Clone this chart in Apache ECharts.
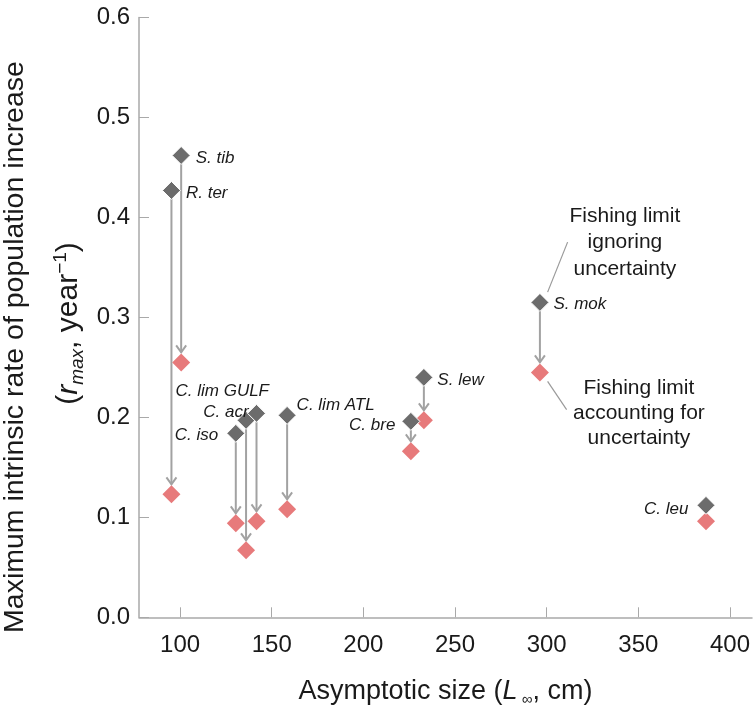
<!DOCTYPE html>
<html>
<head>
<meta charset="utf-8">
<script src="https://cdn.jsdelivr.net/npm/echarts@6/dist/echarts.min.js"></script>
<style>
  html, body { margin: 0; padding: 0; background: #fff; }
  #rmaxChart { width: 754px; height: 708px; }
</style>
</head>
<body>
<div id="rmaxChart"></div>
<script>
// species, asymptotic size and rmax
var species = ['R. ter', 'S. tib', 'C. iso', 'C. acr', 'C. lim GULF', 'C. lim ATL', 'C. bre', 'S. lew', 'S. mok', 'C. leu'];
var sizeCm = [95.3, 100.6, 130.4, 136.0, 141.7, 158.4, 225.9, 233.0, 296.3, 386.9];
var rIgnore = [0.427, 0.462, 0.184, 0.197, 0.204, 0.202, 0.196, 0.240, 0.315, 0.112];
var rAccount = [0.123, 0.255, 0.094, 0.067, 0.096, 0.108, 0.166, 0.197, 0.245, 0.096];
var xTicks = [100, 150, 200, 250, 300, 350, 400];

// where each species name sits around its point
var labelPlace = {
	'R. ter' : [ 'right', 0, 3 ],
	'S. tib' : [ 'right', 0, 2.5 ],
	'C. iso' : [ 'left', -3, 2 ],
	'C. acr' : [ 'left', 17, -8 ],
	'C. lim GULF' : [ 'left', 27, -22 ],
	'C. lim ATL' : [ 'right', -5, -10 ],
	'C. bre' : [ 'left', -1, 4 ],
	'S. lew' : [ 'right', -1, 3 ],
	'S. mok' : [ 'right', -1, 2 ],
	'C. leu' : [ 'left', -3, 4 ]
};

var FONT = "'Liberation Sans', Arial, Helvetica, sans-serif";
var DARK = '#6c6c6c';
var PINK = '#e77a7b';
var ARROW = '#a2a2a2';
var AXIS = '#a9a9a9';

var ignoreData = [], accountData = [], arrowData = [];
for (var i = 0; i < species.length; i++) {
	var lp = labelPlace[species[i]];
	ignoreData.push({
		name : species[i],
		value : [ sizeCm[i], rIgnore[i] ],
		label : {
			position : lp[0],
			offset : [ lp[1], lp[2] ]
		}
	});
	accountData.push([ sizeCm[i], rAccount[i] ]);
	arrowData.push([ sizeCm[i], rIgnore[i], rAccount[i] ]);
}

function renderArrow(params, api) {
	var top = api.coord([ api.value(0), api.value(1) ]);
	var bot = api.coord([ api.value(0), api.value(2) ]);
	var x = top[0];
	var tipY = bot[1] - 10;
	return {
		type : 'group',
		children : [ {
			type : 'line',
			shape : { x1 : x, y1 : top[1], x2 : x, y2 : tipY },
			style : { stroke : ARROW, lineWidth : 2 }
		}, {
			type : 'polyline',
			shape : { points : [ [ x - 5, tipY - 7 ], [ x, tipY ], [ x + 5, tipY - 7 ] ] },
			style : { stroke : ARROW, lineWidth : 2, fill : null }
		} ]
	};
}

var rmaxChart = echarts.init(document.getElementById('rmaxChart'));

rmaxChart.setOption({
	animation : false,
	textStyle : { fontFamily : FONT },
	grid : {
		left : 139,
		right : 2,
		top : 17.5,
		bottom : 90.7,
		outerBoundsMode : 'none'
	},
	xAxis : {
		type : 'value',
		min : 77.6,
		max : 412,
		name : '{n|Asymptotic size (}{i|L}{sub| ∞}{n|, cm)}',
		nameLocation : 'middle',
		nameGap : 58,
		nameTextStyle : {
			rich : {
				n : { fontSize : 27, color : '#1a1a1a', fontFamily : FONT, lineHeight : 32 },
				i : { fontSize : 27, color : '#1a1a1a', fontFamily : FONT, fontStyle : 'italic', lineHeight : 32 },
				sub : { fontSize : 15, color : '#1a1a1a', fontFamily : FONT, verticalAlign : 'bottom', lineHeight : 22 }
			}
		},
		axisLine : { show : true, lineStyle : { color : AXIS, width : 1.5 } },
		axisTick : { show : true, inside : true, length : 10, customValues : xTicks, lineStyle : { color : AXIS, width : 1 } },
		axisLabel : { customValues : xTicks, fontSize : 24, color : '#1a1a1a', margin : 16 },
		splitLine : { show : false }
	},
	yAxis : {
		type : 'value',
		min : 0,
		max : 0.6,
		interval : 0.1,
		axisLine : { show : true, lineStyle : { color : AXIS, width : 1.5 } },
		axisTick : { show : true, inside : true, length : 10, lineStyle : { color : AXIS, width : 1 } },
		axisLabel : {
			fontSize : 24,
			color : '#1a1a1a',
			margin : 9,
			formatter : function(v) {
				return v.toFixed(1);
			}
		},
		splitLine : { show : false }
	},
	series : [ {
		type : 'custom',
		renderItem : renderArrow,
		data : arrowData,
		z : 1,
		silent : true
	}, {
		type : 'scatter',
		symbol : 'diamond',
		symbolSize : 18,
		data : accountData,
		itemStyle : { color : PINK, opacity : 1 },
		z : 2
	}, {
		type : 'scatter',
		symbol : 'diamond',
		symbolSize : 18,
		data : ignoreData,
		itemStyle : { color : DARK, borderColor : '#fff', borderWidth : 1, opacity : 1 },
		label : {
			show : true,
			formatter : '{b}',
			distance : 5,
			fontSize : 17,
			fontStyle : 'italic',
			color : '#1a1a1a',
			fontFamily : FONT
		},
		z : 3
	} ]
});

// annotations hung off the S. mok pair
var p = rmaxChart.convertToPixel({ gridIndex : 0 }, [ sizeCm[8], rIgnore[8] ]);
var q = rmaxChart.convertToPixel({ gridIndex : 0 }, [ sizeCm[8], rAccount[8] ]);
var noteFont = '21px ' + FONT;

rmaxChart.setOption({
	graphic : [ {
		type : 'text',
		x : p[0] + 85,
		y : p[1] - 60,
		style : {
			text : 'Fishing limit\nignoring\nuncertainty',
			font : noteFont,
			fill : '#1a1a1a',
			align : 'center',
			verticalAlign : 'middle',
			lineHeight : 26.5
		}
	}, {
		type : 'line',
		shape : { x1 : p[0] + 27.7, y1 : p[1] - 60.3, x2 : p[0] + 7.7, y2 : p[1] - 10.3 },
		style : { stroke : '#9a9a9a', lineWidth : 1.2 }
	}, {
		type : 'text',
		x : q[0] + 99,
		y : q[1] + 40.6,
		style : {
			text : 'Fishing limit\naccounting for\nuncertainty',
			font : noteFont,
			fill : '#1a1a1a',
			align : 'center',
			verticalAlign : 'middle',
			lineHeight : 25
		}
	}, {
		type : 'line',
		shape : { x1 : q[0] + 7.7, y1 : q[1] + 9, x2 : q[0] + 26.7, y2 : q[1] + 37.3 },
		style : { stroke : '#9a9a9a', lineWidth : 1.2 }
	}, {
		type : 'text',
		x : 15,
		y : 347,
		rotation : Math.PI / 2,
		style : {
			text : 'Maximum intrinsic rate of population increase',
			font : '28.5px ' + FONT,
			fill : '#1a1a1a',
			align : 'center',
			verticalAlign : 'middle'
		}
	}, {
		type : 'text',
		x : 69,
		y : 323.5,
		rotation : Math.PI / 2,
		style : {
			text : '{n|(}{i|r}{sub|max}{n|, year}{sup|−1}{n|)}',
			font : '30px ' + FONT,
			fill : '#1a1a1a',
			align : 'center',
			verticalAlign : 'middle',
			rich : {
				n : { fontSize : 30, fontFamily : FONT, lineHeight : 36 },
				i : { fontSize : 30, fontFamily : FONT, fontStyle : 'italic', lineHeight : 36 },
				sub : { fontSize : 19, fontFamily : FONT, fontStyle : 'italic', verticalAlign : 'bottom', lineHeight : 25 },
				sup : { fontSize : 19, fontFamily : FONT, verticalAlign : 'top', lineHeight : 23 }
			}
		}
	} ]
});
</script>
</body>
</html>
